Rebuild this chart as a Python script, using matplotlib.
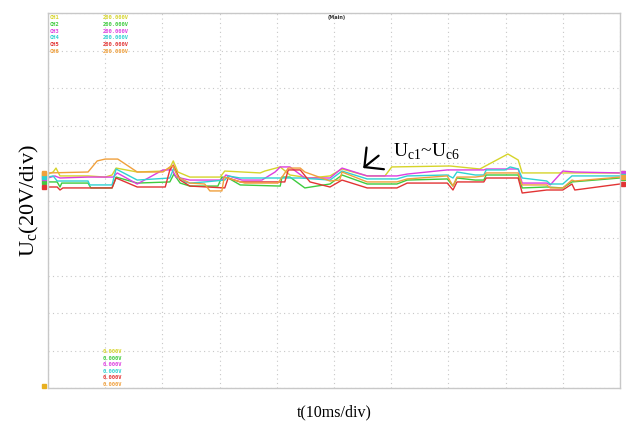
import numpy as np
import matplotlib
matplotlib.use("Agg")
import matplotlib.pyplot as plt

# time in ms, voltage in V (scope: 10ms/div, 20V/div, centre line = 0 V)
t_ch1 = [0, 0.9, 1.4, 2.1, 7.0, 10.0, 11.2, 11.9, 15.6, 20.1, 21.3, 21.9, 22.7, 24.8, 30.1, 30.9, 37.1, 37.9,
         40.6, 42.3, 45.8, 49.3, 51.4, 55.8, 58.9, 60.1, 70.3, 75.5, 80.4, 82.2, 82.9, 100]
v_ch1 = [14.1, 15.2, 17.3, 13.1, 13.1, 12.5, 13.6, 17.3, 15.2, 15.7, 17.3, 21.1, 15.2, 12.5, 12.5, 15.7, 14.7, 15.7,
         17.9, 13.6, 12.0, 13.1, 16.8, 13.1, 13.1, 17.9, 18.4, 16.8, 24.8, 21.6, 14.7, 14.7]

t_ch2 = [0, 1.6, 2.1, 2.4, 7.0, 7.5, 11.2, 11.9, 15.6, 21.3, 22.0, 23.1, 24.8, 29.7, 30.4, 31.5, 33.6, 40.6,
         40.9, 42.3, 44.9, 49.3, 51.4, 55.8, 61.0, 62.8, 69.8, 70.8, 71.5, 74.7, 76.2, 76.6, 82.2, 82.9, 87.2,
         90.0, 91.6, 100]
v_ch2 = [9.9, 9.9, 7.2, 9.3, 9.3, 6.7, 6.7, 12.5, 9.3, 9.9, 14.1, 9.3, 7.7, 7.7, 12.5, 12.0, 8.3, 7.7,
         12.5, 12.5, 6.7, 8.8, 13.6, 8.8, 8.8, 10.9, 11.5, 7.7, 12.0, 10.9, 10.9, 13.6, 13.6, 6.7, 7.2,
         6.7, 9.9, 12.0]

t_ch3 = [0, 1.2, 2.1, 7.0, 11.4, 12.1, 15.6, 20.1, 21.7, 22.4, 24.8, 30.4, 31.1, 33.9, 37.4, 39.7, 40.6, 42.3,
         44.9, 49.3, 51.4, 55.8, 61.0, 62.8, 69.8, 76.2, 76.6, 82.2, 82.9, 87.2, 87.8, 90.0, 92.1, 100]
v_ch3 = [12.0, 13.1, 12.0, 12.5, 12.5, 14.7, 8.8, 16.3, 16.3, 12.5, 10.9, 10.9, 13.6, 10.9, 10.9, 15.2, 17.9, 17.9,
         12.0, 12.0, 17.3, 13.1, 13.1, 14.1, 16.3, 16.3, 16.8, 16.8, 9.3, 9.3, 8.3, 15.7, 15.2, 14.7]

t_ch4 = [0, 0.9, 1.6, 7.0, 7.3, 11.2, 11.9, 15.6, 21.3, 22.0, 22.7, 24.0, 24.8, 27.4, 30.9, 31.5, 33.6, 41.4,
         44.1, 49.3, 51.4, 55.8, 61.0, 62.8, 69.8, 70.8, 71.5, 74.7, 76.2, 76.6, 79.9, 80.8, 82.2, 82.9, 87.2,
         87.8, 90.0, 91.6, 100]
v_ch4 = [12.5, 13.1, 10.4, 10.4, 8.3, 8.3, 16.8, 10.9, 12.0, 17.3, 13.1, 9.9, 9.3, 9.9, 10.9, 13.1, 12.0, 12.0,
         12.0, 10.9, 15.7, 11.5, 11.5, 13.1, 13.6, 12.0, 15.2, 13.6, 13.6, 16.3, 16.3, 17.9, 16.8, 12.0, 10.4,
         8.8, 8.8, 13.1, 13.1]

t_ch5 = [0, 1.6, 2.1, 2.6, 7.0, 11.2, 11.9, 15.6, 20.5, 21.3, 21.9, 23.1, 24.8, 30.9, 31.5, 33.6, 41.4, 42.0,
         44.1, 45.8, 49.3, 51.4, 55.8, 61.0, 62.8, 69.8, 70.8, 71.5, 74.7, 76.2, 76.6, 82.2, 82.9, 87.2, 90.0,
         91.6, 92.1, 100]
v_ch5 = [7.2, 7.2, 5.6, 6.7, 6.7, 6.7, 12.0, 7.2, 7.2, 16.3, 18.9, 10.9, 7.7, 6.7, 12.0, 9.9, 9.9, 16.3,
         16.3, 9.9, 7.2, 10.9, 6.7, 6.7, 9.3, 9.3, 5.6, 9.9, 9.9, 9.9, 12.0, 12.0, 4.0, 5.6, 5.6,
         8.8, 5.6, 8.8]

t_ch6 = [0, 7.0, 8.6, 10.0, 12.2, 15.6, 20.1, 21.3, 21.9, 22.7, 24.8, 27.4, 28.3, 30.4, 30.8, 34.4, 40.2, 42.0,
         44.1, 44.9, 49.3, 51.0, 51.4, 55.8, 61.0, 62.8, 69.8, 70.8, 71.5, 72.0, 74.7, 76.2, 76.6, 82.2, 82.9,
         87.2, 87.8, 90.0, 91.6, 92.1, 100]
v_ch6 = [14.7, 15.2, 21.1, 22.1, 22.1, 15.2, 15.2, 17.9, 18.4, 12.5, 9.3, 8.8, 5.1, 5.1, 12.5, 9.3, 9.3, 17.3,
         17.3, 15.2, 10.4, 10.9, 15.2, 9.9, 9.9, 11.5, 13.1, 7.7, 12.5, 12.5, 12.5, 13.1, 14.7, 14.7, 8.3,
         8.3, 6.7, 6.7, 10.9, 10.4, 12.5]

channels = ['CH1', 'CH2', 'CH3', 'CH4', 'CH5', 'CH6']
scale_text = '200.000V'
offset_text = '0.000V'
colors = ['#d6d42a', '#3ecb3e', '#de3ee0', '#2fd2d2', '#e23434', '#f0a03c']

traces = [(t_ch1, v_ch1), (t_ch2, v_ch2), (t_ch3, v_ch3), (t_ch4, v_ch4), (t_ch5, v_ch5), (t_ch6, v_ch6)]

fig = plt.figure(figsize=(6.26, 4.26), dpi=100)
ax = fig.add_axes([48 / 626, 38 / 426, 572 / 626, 375 / 426])

ax.set_xlim(0, 100)
ax.set_ylim(-100, 100)
ax.set_xticks(np.arange(0, 101, 10))
ax.set_yticks(np.arange(-100, 101, 20))
ax.tick_params(length=0, labelbottom=False, labelleft=False)
ax.grid(True, color='#c8c8c8', linestyle=(0, (1, 3)), linewidth=0.8)
for s in ax.spines.values():
    s.set_color('#c8c8c8')
    s.set_linewidth(1.0)

for (t, v), c in zip(traces, colors):
    ax.plot(t, v, color=c, linewidth=1.0)

# channel level markers at both edges
for (t, v), c in zip(traces, colors):
    ax.plot([-0.7], [v[0]], marker='s', markersize=2.5, color=c, clip_on=False)
    ax.plot([100.6], [v[-1]], marker='s', markersize=3, color=c, clip_on=False)
ax.plot([-0.7], [-99], marker='s', markersize=2.5, color='#e8b020', clip_on=False)

# scope readouts
for i, (name, c) in enumerate(zip(channels, colors)):
    ax.text(0.2, 97.5 - i * 3.6, name, color=c, fontsize=3.9, fontweight='bold', va='center', ha='left',
            family='DejaVu Sans Mono')
    ax.text(9.6, 97.5 - i * 3.6, scale_text, color=c, fontsize=3.9, fontweight='bold', va='center', ha='left',
            family='DejaVu Sans Mono')
    ax.text(9.6, -80.5 - i * 3.5, offset_text, color=c, fontsize=3.9, fontweight='bold', va='center', ha='left',
            family='DejaVu Sans Mono')
ax.text(50.5, 97.5, '(Main)', fontsize=3.6, fontweight='bold', va='center', ha='center', color='#333333')

serif = ['Liberation Serif', 'DejaVu Serif']
ax.annotate('', xy=(55.1, 17.3), xytext=(57.8, 23.9),
            arrowprops=dict(arrowstyle='->,head_length=0.5,head_width=0.5', color='black', lw=1.6,
                            mutation_scale=20, shrinkA=0, shrinkB=0))
ax.text(60.3, 23.2, r'U$_{\mathregular{c1}}$~U$_{\mathregular{c6}}$', fontsize=14, ha='left', va='baseline',
        family=serif)

ax.set_xlabel('t(10ms/div)', fontsize=11.5, family=serif, labelpad=12)
ax.set_ylabel(r'U$_{\mathregular{c}}$(20V/div)', fontsize=16, family=serif, labelpad=5)

fig.savefig('out.png', dpi=100)
